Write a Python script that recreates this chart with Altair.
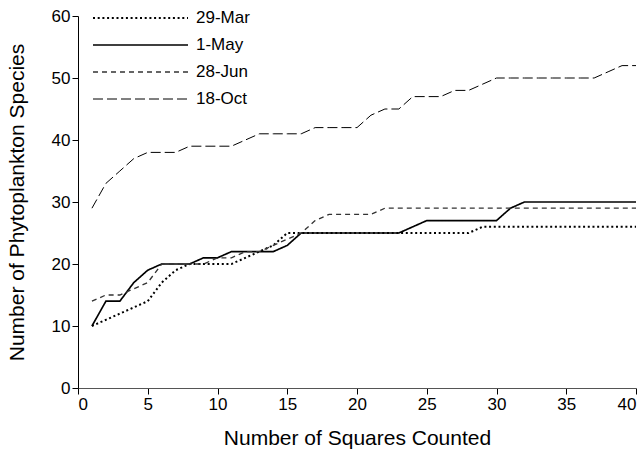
import altair as alt
import pandas as pd

# Cumulative species counts per number of squares counted
squares = list(range(1, 41))
mar29 = [10, 11, 12, 13, 14, 17, 19, 20, 20, 20, 20, 21, 22, 23, 25, 25, 25, 25, 25, 25,
         25, 25, 25, 25, 25, 25, 25, 25, 26, 26, 26, 26, 26, 26, 26, 26, 26, 26, 26, 26]
may1 = [10, 14, 14, 17, 19, 20, 20, 20, 21, 21, 22, 22, 22, 22, 23, 25, 25, 25, 25, 25,
        25, 25, 25, 26, 27, 27, 27, 27, 27, 27, 29, 30, 30, 30, 30, 30, 30, 30, 30, 30]
jun28 = [14, 15, 15, 16, 17, 20, 20, 20, 20, 21, 21, 22, 22, 23, 24, 25, 27, 28, 28, 28,
         28, 29, 29, 29, 29, 29, 29, 29, 29, 29, 29, 29, 29, 29, 29, 29, 29, 29, 29, 29]
oct18 = [29, 33, 35, 37, 38, 38, 38, 39, 39, 39, 39, 40, 41, 41, 41, 41, 42, 42, 42, 42,
         44, 45, 45, 47, 47, 47, 48, 48, 49, 50, 50, 50, 50, 50, 50, 50, 50, 51, 52, 52]

dates = ["29-Mar", "1-May", "28-Jun", "18-Oct"]
series = [mar29, may1, jun28, oct18]

rows = []
for d, vals in zip(dates, series):
    for s, v in zip(squares, vals):
        rows.append({"squares": s, "species": v, "date": d})
df = pd.DataFrame(rows)

# Legend rows (pixel offsets from the top of the plot area)
legend_df = pd.DataFrame({"date": dates, "row": [2, 29, 56, 83]})

FONT = "Liberation Sans"

dash_scale = alt.Scale(domain=dates, range=[[2, 2.7], [1, 0], [5, 4], [10, 4]])
width_scale = alt.Scale(domain=dates, range=[2, 1, 1, 1.2])
color_scale = alt.Scale(domain=dates, range=["#000000", "#000000", "#333333", "#000000"])

lines = (
    alt.Chart(df)
    .mark_line(strokeCap="butt")
    .encode(
        x=alt.X(
            "squares:Q",
            scale=alt.Scale(domain=[0, 40], nice=False),
            axis=alt.Axis(
                values=list(range(0, 41, 5)),
                title="Number of Squares Counted",
                domainColor="#555555",
            ),
        ),
        y=alt.Y(
            "species:Q",
            scale=alt.Scale(domain=[0, 60], nice=False),
            axis=alt.Axis(
                values=list(range(0, 61, 10)),
                title="Number of Phytoplankton Species",
            ),
        ),
        strokeDash=alt.StrokeDash("date:N", scale=dash_scale, legend=None),
        strokeWidth=alt.StrokeWidth("date:N", scale=width_scale, legend=None),
        color=alt.Color("date:N", scale=color_scale, legend=None),
    )
)

legend_lines = (
    alt.Chart(legend_df)
    .mark_rule(strokeCap="butt")
    .encode(
        x=alt.value(15),
        x2=alt.value(110),
        y=alt.Y("row:Q", scale=None, axis=None),
        strokeDash=alt.StrokeDash("date:N", scale=dash_scale, legend=None),
        strokeWidth=alt.StrokeWidth("date:N", scale=width_scale, legend=None),
        color=alt.Color("date:N", scale=color_scale, legend=None),
    )
)

legend_text = (
    alt.Chart(legend_df)
    .mark_text(align="left", baseline="middle", font=FONT, fontSize=17, color="black")
    .encode(
        x=alt.value(118),
        y=alt.Y("row:Q", scale=None, axis=None),
        text="date:N",
    )
)

chart = (
    alt.layer(lines, legend_lines, legend_text)
    .resolve_scale(y="independent")
    .properties(
        width=558,
        height=372,
        autosize=alt.AutoSizeParams(type="none"),
        padding={"left": 78, "top": 16, "right": 8, "bottom": 64},
    )
    .configure_view(stroke=None)
    .configure_axis(
        grid=False,
        domainColor="black",
        domainWidth=1,
        tickColor="black",
        tickSize=6,
        tickWidth=1,
        labelFont=FONT,
        labelFontSize=17,
        labelColor="black",
        labelPadding=2,
        titleFont=FONT,
        titleFontSize=21,
        titleFontWeight="normal",
        titleColor="black",
    )
    .configure_axisX(titlePadding=15)
    .configure_axisY(titlePadding=24)
)

chart.save("out.html", embed_options={"renderer": "svg", "actions": False})
